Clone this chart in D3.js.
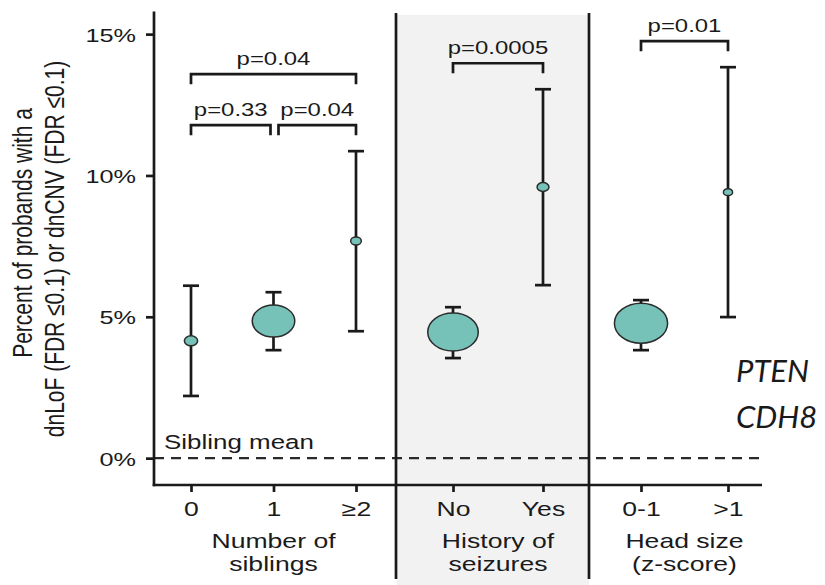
<!DOCTYPE html>
<html>
<head>
<meta charset="utf-8">
<script src="https://cdn.jsdelivr.net/npm/d3@7"></script>
<style>
  body { margin: 0; background: #fff; }
  svg { display: block; font-family: "Liberation Sans", Arial, sans-serif; }
  text { fill: #1a1a1a; }
</style>
</head>
<body>
<svg width="825" height="585"></svg>
<script>
// Data
const categories = ["0", "1", "≥2", "No", "Yes", "0-1", ">1"];
const categoryGroup = [0, 0, 0, 1, 1, 2, 2];
const groupLabels = [["Number of", "siblings"], ["History of", "seizures"], ["Head size", "(z-score)"]];
const pointPct = [4.15, 4.85, 7.68, 4.46, 9.59, 4.77, 9.41];
const ciLow = [2.2, 3.82, 4.49, 3.54, 6.12, 3.82, 4.99];
const ciHigh = [6.1, 5.87, 10.86, 5.34, 13.05, 5.59, 13.83];
const dotArea = [25, 256, 16, 361, 20, 400, 12];   // relative sample size (dot area)
const yTicks = [0, 5, 10, 15];

// p-value comparisons
const compFrom = ["0", "1", "0", "No", "0-1"];
const compTo = ["1", "≥2", "≥2", "Yes", ">1"];
const compLevel = [0, 0, 1, 0, 0];
const compLabel = ["p=0.33", "p=0.04", "p=0.04", "p=0.0005", "p=0.01"];

const geneNotes = ["PTEN", "CDH8"];

// Layout
const SX = 1.33;  // the original figure is stretched horizontally
const axisX = 154, axisRight = 762, axisBottom = 485, axisTop = 11.5;
const panelEdges = [154, 396, 589, 762];
const pointRanges = [[191, 356], [453, 543], [641, 728]];
const ink = "#1a1a1a";

const svg = d3.select("svg");

const y = d3.scaleLinear().domain([-0.95, 15.8]).range([axisBottom, axisTop]);
const r = d3.scaleSqrt().domain([0, 400]).range([0, 20]);

// one point scale per panel
const xScales = pointRanges.map((rg, gi) =>
    d3.scalePoint()
        .domain(categories.filter((c, i) => categoryGroup[i] === gi))
        .range(rg));
const x = c => xScales[categoryGroup[categories.indexOf(c)]](c);

function sText(g, tx, ty, str, size, anchor) {
    return g.append("text")
        .attr("transform", `translate(${tx},${ty}) scale(${SX},1)`)
        .attr("text-anchor", anchor)
        .style("font-size", size + "px")
        .text(str);
}

// Shaded panel (seizures)
svg.append("rect")
    .attr("x", panelEdges[1] + 1)
    .attr("y", 15)
    .attr("width", panelEdges[2] - panelEdges[1] - 1)
    .attr("height", 570)
    .attr("fill", "#f2f2f2");

// Sibling mean dashed line
svg.append("line")
    .attr("x1", axisX).attr("x2", axisRight)
    .attr("y1", y(0)).attr("y2", y(0))
    .attr("stroke", "#2a2a2a")
    .attr("stroke-width", 2.4)
    .attr("stroke-dasharray", "10,7");
sText(svg, 164, 449, "Sibling mean", 19.5, "start");

// Panel separators
svg.selectAll(".sep")
    .data([panelEdges[1], panelEdges[2]])
  .enter().append("line")
    .attr("class", "sep")
    .attr("x1", d => d).attr("x2", d => d)
    .attr("y1", 13).attr("y2", 579)
    .attr("stroke", ink)
    .attr("stroke-width", 2.7);

// Y axis
const yAxis = svg.append("g")
    .attr("transform", `translate(${axisX},0)`)
    .call(d3.axisLeft(y).tickValues(yTicks).tickSize(8).tickFormat(d => d + "%"));
yAxis.select(".domain").remove();
yAxis.selectAll(".tick line").attr("stroke", ink).attr("stroke-width", 2.7);
yAxis.selectAll(".tick text")
    .attr("x", 0).attr("dy", null)
    .attr("transform", `translate(-18,7) scale(${SX},1)`)
    .style("font-size", "19px")
    .attr("fill", ink);
svg.append("line")
    .attr("x1", axisX).attr("x2", axisX)
    .attr("y1", axisTop).attr("y2", axisBottom + 1.3)
    .attr("stroke", ink).attr("stroke-width", 2.7);

// X axis line + ticks per panel
svg.append("line")
    .attr("x1", axisX - 1.3).attr("x2", axisRight)
    .attr("y1", axisBottom).attr("y2", axisBottom)
    .attr("stroke", ink).attr("stroke-width", 2.7);
xScales.forEach((xs, gi) => {
    const ax = svg.append("g")
        .attr("transform", `translate(0,${axisBottom})`)
        .call(d3.axisBottom(xs).tickSize(7));
    ax.select(".domain").remove();
    ax.selectAll(".tick line").attr("stroke", ink).attr("stroke-width", 2.7);
    ax.selectAll(".tick text")
        .attr("y", 0).attr("dy", null)
        .attr("transform", `translate(0,31) scale(${SX},1)`)
        .style("font-size", "20px")
        .attr("fill", ink);
    const mid = d3.mean(xs.domain(), c => xs(c));
    sText(svg, mid, 548, groupLabels[gi][0], 20, "middle");
    sText(svg, mid, 571, groupLabels[gi][1], 20, "middle");
});

// Y axis title (two lines, rotated)
const yTitle = [["Percent of probands with a", 32, 233], ["dnLoF (FDR ≤0.1) or dnCNV (FDR ≤0.1)", 64, 249]];
yTitle.forEach(([str, tx, ty]) => {
    svg.append("text")
        .attr("transform", `translate(${tx},${ty}) scale(${SX},1) rotate(-90)`)
        .attr("text-anchor", "middle")
        .style("font-size", "21px")
        .text(str);
});

// Error bars
const rows = categories.map((c, i) => ({ c, p: pointPct[i], lo: ciLow[i], hi: ciHigh[i], a: dotArea[i] }));
const capW = 8;
const bars = svg.append("g").attr("stroke", ink).attr("stroke-width", 2.7);
bars.selectAll(".stem").data(rows).enter().append("line")
    .attr("x1", d => x(d.c)).attr("x2", d => x(d.c))
    .attr("y1", d => y(d.lo)).attr("y2", d => y(d.hi));
bars.selectAll(".capHi").data(rows).enter().append("line")
    .attr("x1", d => x(d.c) - capW).attr("x2", d => x(d.c) + capW)
    .attr("y1", d => y(d.hi)).attr("y2", d => y(d.hi));
bars.selectAll(".capLo").data(rows).enter().append("line")
    .attr("x1", d => x(d.c) - capW).attr("x2", d => x(d.c) + capW)
    .attr("y1", d => y(d.lo)).attr("y2", d => y(d.lo));

// Dots
svg.selectAll(".dot").data(rows).enter().append("ellipse")
    .attr("class", "dot")
    .attr("cx", d => x(d.c))
    .attr("cy", d => y(d.p))
    .attr("rx", d => r(d.a) * SX)
    .attr("ry", d => r(d.a))
    .attr("fill", "#76c2b9")
    .attr("stroke", "#2b2b2b")
    .attr("stroke-width", 1.5);

// Significance brackets
const legH = 10, gapAbove = 26, levelStep = 51;
compFrom.forEach((from, i) => {
    const to = compTo[i];
    const g = categoryGroup[categories.indexOf(from)];
    const topCi = d3.max(rows.filter((d, k) => categoryGroup[k] === g), d => d.hi);
    const by = y(topCi) - gapAbove - compLevel[i] * levelStep;
    // leave a small gap where two brackets on the same level meet
    const x1 = x(from) + (compLevel[i] === 0 && compTo.includes(from) ? 5 : 0);
    const x2 = x(to) - (compLevel[i] === 0 && compFrom.includes(to) ? 3 : 0);
    svg.append("path")
        .attr("d", `M${x1},${by + legH}V${by}H${x2}V${by + legH}`)
        .attr("fill", "none")
        .attr("stroke", ink)
        .attr("stroke-width", 2.7);
    sText(svg, (x1 + x2) / 2, by - 9.5, compLabel[i], 18, "middle");
});

// Gene annotation
geneNotes.forEach((gname, i) => {
    svg.append("text")
        .attr("x", 736)
        .attr("y", 382 + i * 46)
        .style("font-family", "Lato, 'Open Sans', sans-serif")
        .style("font-style", "italic")
        .style("font-size", "31px")
        .attr("fill", "#000")
        .text(gname);
});
</script>
</body>
</html>
